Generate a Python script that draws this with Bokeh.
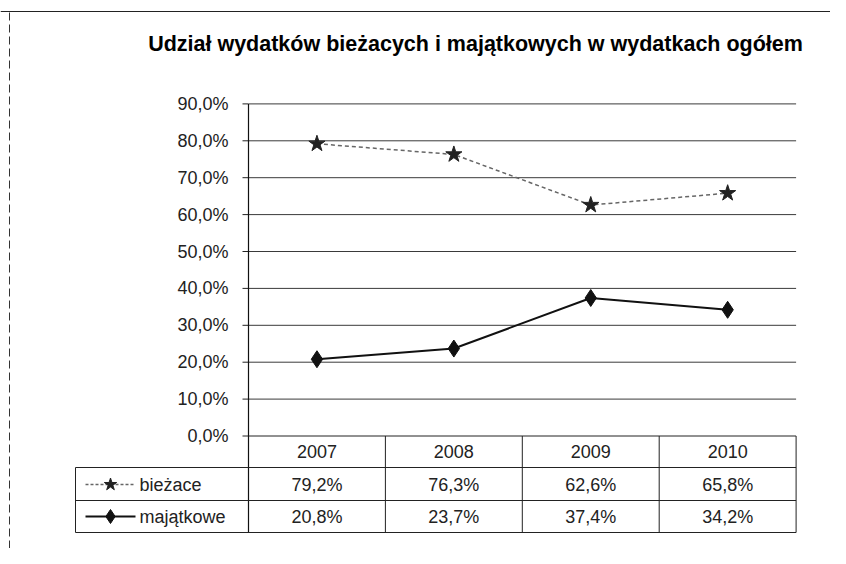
from bokeh.plotting import figure
from bokeh.models import Range1d
from bokeh.core.properties import value
from bokeh.embed import file_html
from bokeh.resources import INLINE

# ---- data ----
TITLE = "Udział wydatków  bieżacych i majątkowych  w wydatkach ogółem"
CATEGORIES = ["2007", "2008", "2009", "2010"]
SERIES_NAMES = ["bieżace", "majątkowe"]
BIEZACE = [79.2, 76.3, 62.6, 65.8]
MAJATKOWE = [20.8, 23.7, 37.4, 34.2]
TICK_VALUES = [0, 10, 20, 30, 40, 50, 60, 70, 80, 90]
TICK_LABELS = ["0,0%", "10,0%", "20,0%", "30,0%", "40,0%", "50,0%",
               "60,0%", "70,0%", "80,0%", "90,0%"]

# ---- layout (picture pixel geometry) ----
FIG_W, FIG_H = 830, 548
AXIS_X = 248.0          # x of the value axis / first column border
COL_W = 136.9           # width of one category column
ZERO_Y = 435.5          # y of 0%
PX_PER_UNIT = 3.69      # pixels per 1%
RIGHT_X = AXIS_X + COL_W * len(CATEGORIES)


def dx(px):
    return (px - AXIS_X) / COL_W


def dy(py):
    return (ZERO_Y - py) / PX_PER_UNIT


p = figure(width=FIG_W, height=FIG_H, output_backend="svg", toolbar_location=None,
           x_range=Range1d(dx(0), dx(FIG_W)),
           y_range=Range1d(dy(FIG_H), dy(0)),
           x_axis_type=None, y_axis_type=None, title=None, min_border=0)
p.grid.visible = False
p.outline_line_color = None
p.background_fill_color = "white"
p.border_fill_color = "white"

FONT = "Liberation Sans"
FS = "18px"
TXT = "#222"

# outer scanned frame
p.segment(x0=[dx(0)], y0=[dy(11)], x1=[dx(FIG_W)], y1=[dy(11)], line_color="#222", line_width=1)
p.segment(x0=[dx(9)], y0=[dy(12)], x1=[dx(9)], y1=[dy(FIG_H)], line_color="#333",
          line_width=1, line_dash="8 4")

# title
p.text(x=[dx(481)], y=[dy(43)], text=[TITLE], text_font=value("Liberation Sans"),
       text_font_size="21.5px", text_font_style="bold", text_align="center",
       text_baseline="middle", text_color="#000")

# gridlines
grid_vals = [t for t in TICK_VALUES if t > 0]
p.segment(x0=[0] * len(grid_vals), y0=grid_vals, x1=[dx(RIGHT_X)] * len(grid_vals),
          y1=grid_vals, line_color="#3a3a3a", line_width=1)
# ticks
p.segment(x0=[dx(242)] * len(TICK_VALUES), y0=TICK_VALUES, x1=[0] * len(TICK_VALUES),
          y1=TICK_VALUES, line_color="#222", line_width=1)
# tick labels
p.text(x=[dx(228)] * len(TICK_VALUES), y=TICK_VALUES, text=TICK_LABELS,
       text_font=value(FONT), text_font_size=FS, text_align="right",
       text_baseline="middle", text_color=TXT)

# axis line (runs through the table)
p.segment(x0=[0], y0=[TICK_VALUES[-1]], x1=[0], y1=[dy(532)], line_color="#111", line_width=1.2)

# data table grid
ROW_LINES = [ZERO_Y, 467, 500, 532]
p.segment(x0=[0], y0=[dy(ROW_LINES[0])], x1=[dx(RIGHT_X)], y1=[dy(ROW_LINES[0])],
          line_color="#222", line_width=1)
for yy in ROW_LINES[1:]:
    p.segment(x0=[dx(75)], y0=[dy(yy)], x1=[dx(RIGHT_X)], y1=[dy(yy)],
              line_color="#222", line_width=1)
col_borders = list(range(1, len(CATEGORIES) + 1))
p.segment(x0=col_borders, y0=[dy(ROW_LINES[0])] * len(col_borders), x1=col_borders,
          y1=[dy(532)] * len(col_borders), line_color="#222", line_width=1)
p.segment(x0=[dx(75)], y0=[dy(467)], x1=[dx(75)], y1=[dy(532)], line_color="#222", line_width=1)

xs = [i + 0.5 for i in range(len(CATEGORIES))]

# table text
p.text(x=xs, y=[dy(451)] * len(xs), text=CATEGORIES, text_font=value(FONT),
       text_font_size=FS, text_align="center", text_baseline="middle", text_color=TXT)
p.text(x=xs, y=[dy(484)] * len(xs), text=[f"{v:.1f}%".replace(".", ",") for v in BIEZACE],
       text_font=value(FONT), text_font_size=FS, text_align="center",
       text_baseline="middle", text_color=TXT)
p.text(x=xs, y=[dy(516)] * len(xs), text=[f"{v:.1f}%".replace(".", ",") for v in MAJATKOWE],
       text_font=value(FONT), text_font_size=FS, text_align="center",
       text_baseline="middle", text_color=TXT)

# legend keys in the table
p.segment(x0=[dx(85)], y0=[dy(484)], x1=[dx(135)], y1=[dy(484)], line_color="#666",
          line_width=1.5, line_dash="3 2")
p.scatter(x=[dx(110)], y=[dy(484)], marker="star", size=13, fill_color="#222", line_color="#222")
p.segment(x0=[dx(85)], y0=[dy(516)], x1=[dx(135)], y1=[dy(516)], line_color="#111", line_width=2)
p.scatter(x=[dx(110)], y=[dy(516)], marker="diamond", size=14, fill_color="#111", line_color="#111")
p.text(x=[dx(139), dx(139)], y=[dy(484), dy(516)], text=SERIES_NAMES, text_font=value(FONT),
       text_font_size=FS, text_align="left", text_baseline="middle", text_color=TXT)

# series
p.line(xs, BIEZACE, line_color="#666", line_width=1.5, line_dash="4 3")
p.scatter(xs, BIEZACE, marker="star", size=17, fill_color="#222", line_color="#222")
p.line(xs, MAJATKOWE, line_color="#111", line_width=2)
p.scatter(xs, MAJATKOWE, marker="diamond", size=17, fill_color="#111", line_color="#111")

open("out.html", "w").write(file_html(p, INLINE))
